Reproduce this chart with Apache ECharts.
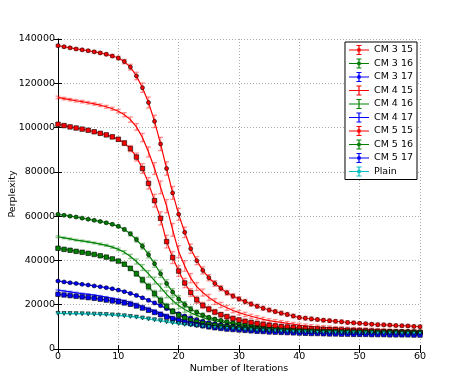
<!DOCTYPE html>
<html><head><meta charset="utf-8">
<script src="https://cdn.jsdelivr.net/npm/echarts@6/dist/echarts.min.js"></script>
<style>html,body{margin:0;padding:0;background:#fff}#c{width:467px;height:389px}</style>
</head><body><div id="c"></div><script>
const iterations = [0,1,2,3,4,5,6,7,8,9,10,11,12,13,14,15,16,17,18,19,20,21,22,23,24,25,26,27,28,29,30,31,32,33,34,35,36,37,38,39,40,41,42,43,44,45,46,47,48,49,50,51,52,53,54,55,56,57,58,59,60];
const xTicks = [0,10,20,30,40,50,60];
const yTicks = [0,20000,40000,60000,80000,100000,120000,140000];
const seriesNames = ['CM 3 15','CM 3 16','CM 3 17','CM 4 15','CM 4 16','CM 4 17','CM 5 15','CM 5 16','CM 5 17','Plain'];

const cm3_15 = [137000,136500,136000,135500,135100,134700,134200,133700,133100,132300,131400,129800,127300,123300,118000,111300,102800,92600,81500,70500,60800,52700,45300,39900,35500,32200,29600,27400,25400,23900,22600,21400,20300,19300,18400,17600,16900,16200,15600,14900,14200,13900,13600,13300,13000,12800,12500,12300,12000,11800,11600,11400,11200,11000,10900,10800,10600,10500,10400,10200,10100];
const cm3_16 = [60800,60400,60000,59600,59100,58600,58100,57600,57000,56300,55400,54000,52000,49400,46400,42600,38500,34000,29600,25700,22600,20100,18100,16600,15300,14300,13500,12900,12300,11800,11400,11000,10700,10400,10100,9900,9700,9500,9300,9100,9000,8900,8800,8700,8600,8500,8400,8300,8300,8200,8200,8100,8100,8000,8000,8000,7900,7900,7900,7800,7800];
const cm3_17 = [30700,30300,29900,29600,29200,28900,28500,28100,27700,27200,26600,25900,25100,24200,23100,22000,20800,19600,18300,17100,15900,14900,14000,13200,12500,11900,11400,11000,10600,10300,10000,9700,9500,9300,9100,8900,8700,8600,8400,8300,8200,8100,8000,7900,7800,7700,7700,7600,7500,7500,7400,7400,7300,7300,7300,7200,7200,7200,7100,7100,7100];
const cm4_15 = [113600,113100,112600,112100,111700,111200,110700,110100,109400,108500,107400,105800,103600,100300,95500,89000,81500,73000,64500,53800,44000,37500,32000,28200,25500,23300,21400,19900,18600,17400,16400,15600,14800,14100,13400,12800,12400,12000,11600,11200,10800,10500,10200,10000,9800,9600,9400,9300,9100,9000,8900,8800,8700,8600,8400,8300,8200,8100,8000,7900,7800];
const cm4_16 = [50700,50200,49700,49200,48800,48400,47900,47400,46800,46000,45000,43700,41800,39500,36800,33900,30900,27800,24700,21900,19600,17800,16400,15200,14200,13400,12800,12200,11700,11300,10900,10600,10300,10000,9800,9600,9400,9200,9000,8900,8800,8700,8600,8500,8400,8300,8200,8200,8100,8100,8000,8000,7900,7900,7900,7800,7800,7800,7700,7700,7700];
const cm4_17 = [26600,26200,25800,25400,25000,24700,24300,23900,23400,22900,22400,21800,21100,20200,19200,18200,17200,16200,15200,14300,13500,12800,12200,11700,11200,10800,10400,10100,9800,9500,9300,9100,8900,8700,8500,8400,8200,8100,8000,7900,7800,7700,7600,7500,7500,7400,7300,7300,7200,7200,7100,7100,7100,7000,7000,7000,6900,6900,6900,6900,6800];
const cm5_15 = [101500,100900,100300,99800,99300,98800,98100,97400,96700,95800,94700,93000,90500,86700,81500,74800,67000,59000,48500,41300,35200,29800,25500,22200,19700,18000,16700,15500,14600,13800,13100,12500,12000,11500,11100,10700,10400,10100,9900,9700,9500,9300,9100,9000,8900,8800,8700,8600,8500,8400,8300,8200,8100,8000,7900,7800,7700,7700,7600,7600,7500];
const cm5_16 = [45500,45000,44600,44100,43700,43200,42700,42100,41500,40700,39700,38300,36400,34000,31200,28200,25000,21900,19200,17000,15300,14000,13000,12200,11600,11100,10700,10300,10000,9700,9500,9300,9100,8900,8800,8600,8500,8400,8300,8200,8100,8000,8000,7900,7900,7800,7800,7700,7700,7700,7600,7600,7600,7500,7500,7500,7500,7400,7400,7400,7400];
const cm5_17 = [24700,24400,24100,23800,23500,23200,22900,22500,22100,21700,21300,20800,20200,19400,18500,17500,16500,15500,14500,13600,12800,12100,11500,11000,10500,10000,9600,9300,9000,8800,8600,8400,8200,8000,7900,7700,7600,7500,7400,7300,7200,7100,7000,7000,6900,6800,6800,6700,6700,6600,6600,6600,6500,6500,6500,6400,6400,6400,6400,6300,6300];
const plain = [16100,16050,16000,15950,15900,15850,15750,15650,15550,15400,15200,15000,14700,14400,14000,13600,13200,12800,12300,11900,11500,11100,10800,10500,10200,9900,9700,9500,9300,9100,8900,8700,8600,8400,8300,8200,8100,8000,7900,7800,7700,7700,7600,7500,7500,7400,7400,7300,7300,7300,7200,7200,7200,7100,7100,7100,7100,7000,7000,7000,7000];

const err3_15 = [600,600,600,600,600,600,600,650,650,700,800,1000,1300,1700,2100,2500,2800,3000,3000,2900,2700,2400,2100,1800,1600,1400,1300,1200,1100,1100,1000,1000,1000,950,950,900,900,900,900,850,850,850,850,800,800,800,800,800,800,750,750,750,750,750,750,700,700,700,700,700,700];
const err4_15 = [600,600,600,600,600,600,600,600,650,700,800,950,1200,1500,1900,2300,2700,2900,3000,2900,2700,2400,2100,1800,1600,1400,1300,1200,1100,1050,1000,1000,950,950,900,900,900,850,850,850,850,800,800,800,800,800,750,750,750,750,750,750,700,700,700,700,700,700,700,700,700];
const err5_15 = [600,600,600,600,600,600,600,650,700,800,900,1100,1400,1800,2200,2600,2900,3000,2900,2700,2400,2100,1800,1600,1400,1300,1200,1100,1050,1000,1000,950,950,900,900,900,850,850,850,800,800,800,800,800,750,750,750,750,750,700,700,700,700,700,700,700,700,700,700,700,700];
const err3_16 = [400,400,400,400,400,400,400,450,450,500,600,700,900,1100,1300,1500,1600,1700,1700,1600,1500,1300,1100,1000,900,800,750,700,650,650,600,600,600,550,550,550,550,500,500,500,500,500,500,500,500,450,450,450,450,450,450,450,450,450,450,450,450,450,450,450,450];
const err4_16 = [400,400,400,400,400,400,400,450,450,500,600,750,950,1150,1350,1500,1600,1650,1600,1500,1350,1200,1050,950,850,800,750,700,650,650,600,600,600,550,550,550,550,500,500,500,500,500,500,500,500,450,450,450,450,450,450,450,450,450,450,450,450,450,450,450,450];
const err5_16 = [400,400,400,400,400,400,400,450,450,500,600,750,950,1150,1350,1500,1550,1500,1400,1250,1100,950,850,750,700,650,600,600,550,550,550,500,500,500,500,500,450,450,450,450,450,450,450,450,450,450,450,400,400,400,400,400,400,400,400,400,400,400,400,400,400];
const err3_17 = [300,300,300,300,300,300,300,300,300,350,350,400,450,500,550,600,650,650,650,600,550,500,500,450,450,400,400,400,400,350,350,350,350,350,350,350,300,300,300,300,300,300,300,300,300,300,300,300,300,300,300,300,300,300,300,300,300,300,300,300,300];
const err4_17 = [300,300,300,300,300,300,300,300,300,300,350,400,450,500,550,600,600,600,600,550,500,500,450,450,400,400,400,400,350,350,350,350,350,350,350,300,300,300,300,300,300,300,300,300,300,300,300,300,300,300,300,300,300,300,300,300,300,300,300,300,300];
const err5_17 = [300,300,300,300,300,300,300,300,300,300,350,400,450,500,550,550,550,550,500,500,450,450,400,400,400,350,350,350,350,350,350,300,300,300,300,300,300,300,300,300,300,300,300,300,300,300,300,300,300,300,300,300,300,300,300,300,300,300,300,300,300];
const errPlain = [250,250,250,250,250,250,250,250,250,250,250,300,300,350,350,400,400,400,400,350,350,350,300,300,300,300,300,300,300,250,250,250,250,250,250,250,250,250,250,250,250,250,250,250,250,250,250,250,250,250,250,250,250,250,250,250,250,250,250,250,250];

const valueSets = [cm3_15, cm3_16, cm3_17, cm4_15, cm4_16, cm4_17, cm5_15, cm5_16, cm5_17, plain];
const errSets = [err3_15, err3_16, err3_17, err4_15, err4_16, err4_17, err5_15, err5_16, err5_17, errPlain];
const colors = ['#ff0000','#008000','#0000ff','#ff0000','#008000','#0000ff','#ff0000','#008000','#0000ff','#00bfbf'];
const errColors = ['rgba(255,0,0,0.4)','rgba(0,128,0,0.4)','rgba(0,0,255,0.4)','rgba(255,0,0,0.4)','rgba(0,128,0,0.4)','rgba(0,0,255,0.4)','rgba(255,0,0,0.4)','rgba(0,128,0,0.4)','rgba(0,0,255,0.4)','rgba(0,191,191,0.4)'];
const markers = ['circle','circle','circle','none','none','none','rect','rect','rect','triangle'];
const markerSizes = [4,4,4,0,0,0,4.5,4.5,4.5,4];

const FONT = 'DejaVu Sans';
const barPath = 'M0 4.4 L20 4.4 L20 5.6 L0 5.6 Z M9.4 0 L10.6 0 L10.6 10 L9.4 10 Z M7.5 0 L12.5 0 L12.5 1 L7.5 1 Z M7.5 9 L12.5 9 L12.5 10 L7.5 10 Z';
const dotPath = ' M10 3 A2 2 0 1 1 10 7 A2 2 0 1 1 10 3 Z';

const series = [];
seriesNames.forEach((name, k) => {
  const vals = valueSets[k], errs = errSets[k];
  series.push({
    name: name + ' err', type: 'custom', z: 1, silent: true,
    data: iterations.map((x, i) => [x, vals[i], errs[i]]),
    renderItem: (params, api) => {
      const x = api.value(0), y = api.value(1), e = api.value(2);
      const t = api.coord([x, y + e]), b = api.coord([x, y - e]);
      const w = 2.5, st = { stroke: errColors[k], lineWidth: 1.3 };
      return { type: 'group', children: [
        { type: 'line', shape: { x1: t[0], y1: t[1], x2: b[0], y2: b[1] }, style: st },
        { type: 'line', shape: { x1: t[0] - w, y1: t[1], x2: t[0] + w, y2: t[1] }, style: st },
        { type: 'line', shape: { x1: b[0] - w, y1: b[1], x2: b[0] + w, y2: b[1] }, style: st }
      ]};
    }
  });
});
seriesNames.forEach((name, k) => {
  const vals = valueSets[k];
  series.push({
    name: name, type: 'line', z: 2,
    data: iterations.map((x, i) => [x, vals[i]]),
    symbol: markers[k], symbolSize: markerSizes[k], symbolRotate: k === 9 ? 180 : 0,
    showSymbol: markers[k] !== 'none',
    lineStyle: { color: colors[k], width: 1.2 },
    itemStyle: { color: colors[k], borderColor: 'rgba(0,0,0,0.75)', borderWidth: 0.8 },
    emphasis: { disabled: true }, animation: false
  });
});

const axisCommon = {
  axisLine: { show: true, lineStyle: { color: '#000', width: 1 } },
  axisTick: { show: true, inside: true, length: 4, lineStyle: { color: '#000' } },
};
const plainNum = v => String(v);

const chart = echarts.init(document.getElementById('c'), null, { renderer: 'canvas' });
chart.setOption({
  animation: false,
  backgroundColor: '#fff',
  grid: { left: 58, right: 47, top: 39, bottom: 40, containLabel: false, outerBoundsMode: 'none' },
  legend: {
    orient: 'vertical', right: 50, top: 42,
    data: seriesNames.map((n, k) => ({ name: n, icon: 'path://' + barPath + (markers[k] !== 'none' ? dotPath : ''),
      itemStyle: { color: colors[k], borderWidth: 0 } })),
    itemWidth: 20, itemHeight: 10, itemGap: 1.5,
    itemStyle: { borderWidth: 0 },
    padding: [2, 4, 2, 4],
    borderColor: '#000', borderWidth: 1, backgroundColor: '#fff',
    textStyle: { fontFamily: FONT, fontSize: 9.5, color: '#000', lineHeight: 12 },
    selectedMode: false
  },
  xAxis: [
    Object.assign({ type: 'value', min: xTicks[0], max: xTicks[xTicks.length-1], interval: 10,
      name: 'Number of Iterations', nameLocation: 'middle', nameGap: 15, nameMoveOverlap: false,
      nameTextStyle: { fontFamily: FONT, fontSize: 9.5, color: '#000' },
      axisLabel: { fontFamily: FONT, fontSize: 9.5, color: '#000', margin: 3, formatter: plainNum },
      splitLine: { show: true, lineStyle: { color: '#aaa', type: [1, 2], width: 1 } } }, axisCommon),
    Object.assign({ type: 'value', position: 'top', min: 0, max: 60, interval: 10,
      axisLabel: { show: false }, splitLine: { show: false } }, axisCommon)
  ],
  yAxis: [
    Object.assign({ type: 'value', min: yTicks[0], max: yTicks[yTicks.length-1], interval: 20000,
      name: 'Perplexity', nameLocation: 'middle', nameGap: 40, nameRotate: 90, nameMoveOverlap: false,
      nameTextStyle: { fontFamily: FONT, fontSize: 9.5, color: '#000' },
      axisLabel: { fontFamily: FONT, fontSize: 9.5, color: '#000', margin: 3, formatter: plainNum },
      splitLine: { show: true, lineStyle: { color: '#aaa', type: [1, 2], width: 1 } } }, axisCommon),
    Object.assign({ type: 'value', position: 'right', min: 0, max: 140000, interval: 20000,
      axisLabel: { show: false }, splitLine: { show: false } }, axisCommon)
  ],
  series: series
});
</script></body></html>
